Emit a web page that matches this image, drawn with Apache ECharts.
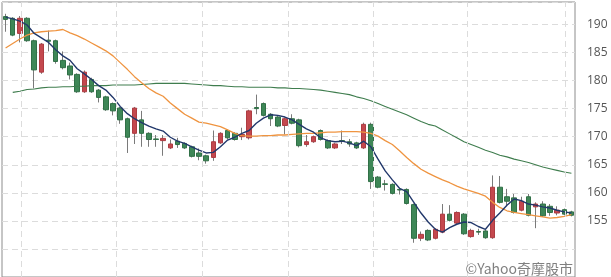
<!DOCTYPE html>
<html><head><meta charset="utf-8">
<script src="https://cdn.jsdelivr.net/npm/echarts@6/dist/echarts.min.js"></script>
<style>html,body{margin:0;padding:0;background:#fff}#c{width:611px;height:277px}</style>
</head><body><div id="c"></div>
<script>
const opens  = [191.4,191.1,188.4,191.1,187.1,181.5,187.2,187.1,183.6,182.6,181.1,178.0,180.2,178.3,177.1,175.9,175.1,173.2,170.6,173.0,
                170.6,169.6,169.3,168.0,169.2,168.8,168.2,167.1,166.6,166.3,168.9,171.1,170.6,170.0,169.8,175.2,175.9,174.0,173.5,172.0,
                173.2,173.0,168.6,169.1,171.1,169.3,168.0,169.3,169.1,168.9,168.0,172.2,162.8,161.6,161.5,160.6,160.6,157.9,151.9,153.3,
                151.9,153.0,156.2,154.6,156.2,152.2,153.1,153.2,152.0,161.0,159.3,159.1,156.9,159.3,157.5,158.0,157.6,156.4,157.0,156.6];
const closes = [190.9,188.1,191.1,187.1,181.9,186.5,187.0,183.4,182.3,181.0,178.0,181.5,178.0,177.0,174.8,174.6,173.0,169.9,175.1,170.6,
                169.5,169.5,169.7,168.7,168.6,168.0,166.5,166.5,165.7,169.1,170.6,169.8,169.5,170.4,174.6,175.0,173.8,173.2,171.9,173.2,
                172.4,168.4,169.1,170.0,169.5,168.0,168.7,169.2,168.7,168.0,172.2,162.0,161.0,161.5,159.9,160.5,158.1,151.9,152.6,151.6,
                153.5,156.2,155.1,156.5,152.7,153.3,153.0,152.0,161.0,158.3,158.5,156.5,158.5,156.0,158.0,155.9,156.5,156.9,156.2,156.0];
const lows   = [188.7,187.9,186.8,186.9,178.6,181.2,185.2,183.0,182.0,180.2,177.8,177.8,177.8,176.1,174.6,173.8,172.3,167.1,168.7,168.2,
                168.2,168.2,166.6,167.8,168.0,167.8,166.3,165.8,165.2,165.7,168.7,169.5,169.3,169.4,169.5,174.0,173.6,171.9,171.7,170.4,
                172.2,168.1,168.2,168.9,169.3,167.8,167.8,168.7,168.2,167.8,167.8,160.7,160.8,160.4,159.7,159.7,157.9,151.1,151.4,151.4,
                151.7,152.8,154.9,154.4,152.5,152.0,152.5,151.8,151.8,158.1,157.6,156.3,156.7,155.8,153.7,155.7,155.9,156.0,156.0,155.8];
const highs  = [191.9,191.3,191.5,191.3,187.3,186.7,188.9,187.3,185.2,183.2,181.3,181.8,180.5,178.5,177.3,176.1,175.3,173.4,175.3,174.6,
                170.8,170.3,170.3,169.5,169.8,169.0,168.4,167.9,166.8,171.1,170.8,171.3,170.8,171.6,174.8,177.5,176.1,174.2,173.7,173.4,
                174.0,173.2,170.3,170.2,171.3,169.5,168.9,171.1,169.6,169.1,172.5,172.5,163.0,162.3,161.7,160.7,160.8,158.1,153.1,153.5,
                153.7,158.0,157.8,156.7,156.4,153.6,153.6,153.4,163.1,163.0,160.7,159.8,159.3,159.8,158.3,158.5,158.0,157.6,157.2,156.8];
const ma5  = [191.3,191.0,190.6,189.9,188.4,187.6,186.8,185.5,184.4,183.6,182.1,181.2,180.2,179.1,178.3,177.0,175.4,174.1,173.2,172.5,
              171.9,171.4,171.0,169.9,169.2,168.8,168.2,167.6,167.1,167.2,168.2,169.4,169.9,170.6,171.1,172.4,173.3,173.9,173.8,173.5,
              173.0,172.2,171.4,170.8,169.8,169.3,169.1,169.2,168.9,168.4,169.2,168.2,166.0,163.9,162.3,160.8,160.2,158.3,156.4,154.8,
              153.5,153.0,153.8,154.4,154.8,154.7,154.0,153.5,155.1,156.4,157.8,158.9,158.6,158.0,157.8,157.5,157.3,156.9,156.6,156.4];
const ma20 = [185.8,186.6,187.4,188.1,188.5,188.7,188.8,188.9,189.1,188.5,188.0,187.4,186.7,186.0,185.3,184.4,183.2,182.0,180.7,179.6,
              178.6,177.8,177.2,176.0,175.0,174.0,173.3,172.6,172.4,172.1,171.8,171.2,170.6,170.2,170.1,170.1,170.2,170.2,170.3,170.3,
              170.4,170.5,170.6,170.6,170.7,170.8,170.8,170.9,170.9,170.9,170.8,170.6,170.1,169.3,168.6,167.5,166.3,165.2,164.2,163.5,
              162.9,162.3,161.8,161.2,160.7,160.3,159.9,159.4,158.3,157.4,156.8,156.5,156.3,156.1,155.9,155.7,155.5,155.6,155.8,156.1];
const ma60 = [null,177.9,178.1,178.4,178.5,178.7,178.8,178.8,178.9,178.9,179.0,179.0,179.1,179.1,179.1,179.2,179.2,179.2,179.2,179.3,
              179.4,179.5,179.5,179.5,179.5,179.5,179.4,179.3,179.2,179.1,179.1,179.0,178.9,178.9,178.8,178.8,178.8,178.8,178.7,178.7,
              178.6,178.6,178.5,178.4,178.3,178.1,177.9,177.7,177.5,177.1,176.8,176.4,175.9,175.4,174.9,174.4,173.9,173.3,172.7,172.2,
              171.9,171.2,170.5,169.8,169.1,168.6,168.1,167.6,167.2,166.7,166.4,166.0,165.7,165.4,165.0,164.6,164.3,164.0,163.7,163.5];
const vGridPositions = [2.7, 16.0, 28.0, 40.0, 51.85, 64.9, 78.6];
const yTickLabels = [155, 160, 165, 170, 175, 180, 185, 190];
const watermark = '©Yahoo奇摩股市';

const categories = opens.map((_, i) => String(i + 1));
const wickData = opens.map((o, i) => [o, closes[i], lows[i], highs[i]]);
const bodyData = opens.map((o, i) => [o, closes[i], Math.min(o, closes[i]), Math.max(o, closes[i])]);
const RED = '#c4484e', GREEN = '#3e8757';
const RED_EDGE = '#ad3c42', GREEN_EDGE = '#317047';

const chart = echarts.init(document.getElementById('c'), null, {renderer: 'canvas'});
chart.setOption({
  animation: false,
  grid: {left: 2, right: 36, top: 2, bottom: -31.25, show: true, borderColor: '#8c8c8c', borderWidth: 1},
  xAxis: [
    {type: 'category', data: categories, boundaryGap: true, show: false},
    {type: 'value', min: 0, max: categories.length, show: false}
  ],
  yAxis: {
    type: 'value', position: 'right', min: 145, max: 194, interval: 5,
    axisLine: {show: false}, axisTick: {show: false},
    axisLabel: {
      margin: 12, color: '#555', fontSize: 12, fontFamily: 'Open Sans',
      formatter: v => yTickLabels.indexOf(v) >= 0 ? String(v) : ''
    },
    splitLine: {lineStyle: {color: '#dcdcdc', type: [6, 4], width: 1}}
  },
  graphic: [{
    type: 'text', right: 38, top: 262, z: 100,
    style: {text: watermark, fill: '#808080', font: '14px "Noto Sans CJK TC"'}
  }],
  series: [
    {
      type: 'line', xAxisIndex: 1, data: [[0, null]], symbol: 'none', silent: true, z: 0,
      markLine: {
        silent: true, symbol: ['none', 'none'], label: {show: false}, animation: false,
        lineStyle: {color: '#dcdcdc', type: [6, 4], width: 1},
        data: vGridPositions.map(v => ({xAxis: v}))
      }
    },
    {
      type: 'candlestick', data: wickData, barWidth: 1, silent: true,
      itemStyle: {color: '#7a7a7a', color0: '#7a7a7a', borderColor: '#7a7a7a', borderColor0: '#7a7a7a', borderColorDoji: '#555', borderWidth: 1}
    },
    {
      type: 'candlestick', data: bodyData, barWidth: 5,
      itemStyle: {color: RED, color0: GREEN, borderColor: RED_EDGE, borderColor0: GREEN_EDGE, borderWidth: 1}
    },
    {type: 'line', data: ma60, symbol: 'none', smooth: false, lineStyle: {color: '#3f7d4e', width: 1.1}},
    {type: 'line', data: ma20, symbol: 'none', smooth: false, lineStyle: {color: '#ef9440', width: 1.3}},
    {type: 'line', data: ma5, symbol: 'none', smooth: false, lineStyle: {color: '#22386b', width: 1.4}}
  ]
});
</script></body></html>
